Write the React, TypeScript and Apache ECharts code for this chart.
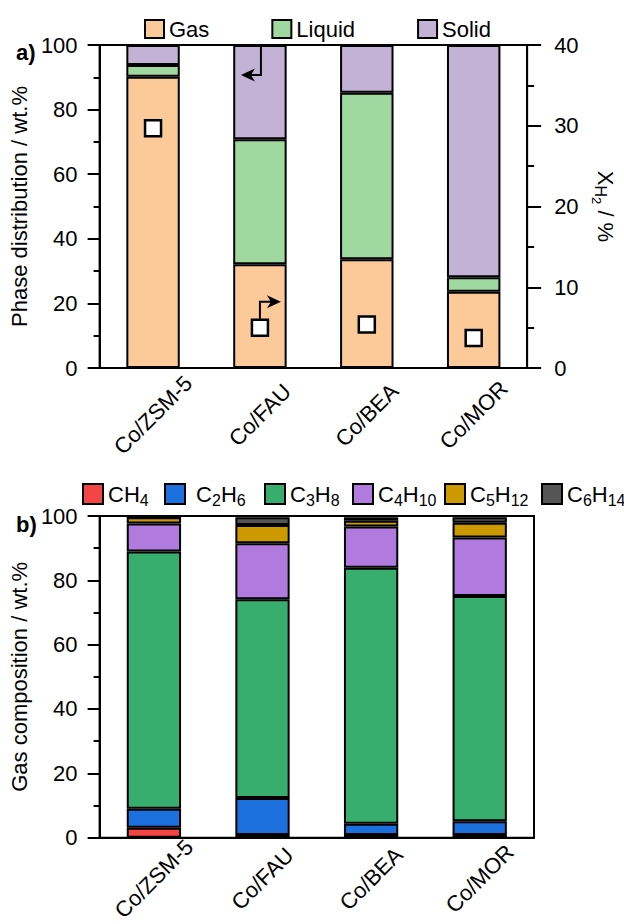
import React, { useEffect, useRef } from 'react';
import * as echarts from 'echarts';

const FONT = '"Liberation Sans", Arial, Helvetica, sans-serif';

// ---------- data ----------
const categories = ['Co/ZSM-5', 'Co/FAU', 'Co/BEA', 'Co/MOR'];

// panel a: phase distribution (wt.%)
const gas = [90.2, 32.1, 33.7, 23.6];
const liquid = [3.6, 38.7, 51.5, 4.5];
const solid = [6.2, 29.2, 14.8, 71.9];
// H2 conversion (%), right axis
const xH2 = [29.7, 5.0, 5.4, 3.7];

// panel b: gas composition (wt.%)
const ch4 = [3.1, 0.8, 0.8, 0.8];
const c2h6 = [5.9, 11.5, 3.5, 4.3];
const c3h8 = [80.0, 61.8, 79.6, 70.0];
const c4h10 = [8.7, 17.4, 12.8, 18.2];
const c5h12 = [1.9, 5.7, 1.8, 4.6];
const c6h14 = [0.0, 2.4, 1.1, 1.7];

const leftTicks = [0, 20, 40, 60, 80, 100];
const rightTicks = [0, 10, 20, 30, 40];

const phaseNames = ['Gas', 'Liquid', 'Solid'];
const phaseColors = ['#FCC999', '#A0D9A0', '#C4B2D6'];
const gasNames = ['CH4', 'C2H6', 'C3H8', 'C4H10', 'C5H12', 'C6H14'];
const gasColors = ['#F44545', '#1B70DD', '#38AE6E', '#B07ADE', '#CC9900', '#555555'];

const FS = 22;

const richSub = {
  s: { fontSize: 16, fontFamily: FONT, color: '#000', padding: [12, 0, 0, 0] },
};

function subscriptName(n: string) {
  return n.replace(/(\d+)/g, '{s|$1}');
}

export default function App() {
  const ref = useRef<HTMLDivElement>(null);

  useEffect(() => {
    if (!ref.current) return;
    const chart = echarts.init(ref.current, null, { renderer: 'svg' });

    const axisLineStyle = { color: '#000', width: 2 };
    const labelStyle = { fontSize: FS, color: '#000', fontFamily: FONT };
    const nameStyle = { fontSize: FS, color: '#000', fontFamily: FONT };

    const leftY = (gridIndex: number, name: string) => ({
      type: 'value',
      gridIndex,
      min: leftTicks[0],
      max: leftTicks[leftTicks.length - 1],
      interval: leftTicks[1] - leftTicks[0],
      name,
      nameLocation: 'middle',
      nameGap: 60,
      nameTextStyle: nameStyle,
      axisLine: { show: true, lineStyle: axisLineStyle },
      axisTick: { show: true, inside: false, length: 12, lineStyle: axisLineStyle },
      minorTick: { show: true, splitNumber: 2, length: 6, lineStyle: axisLineStyle },
      splitLine: { show: false },
      axisLabel: { ...labelStyle, margin: 22 },
    });

    const xAx = (gridIndex: number, margin: number) => ({
      type: 'category',
      gridIndex,
      data: categories,
      axisLine: { show: true, lineStyle: axisLineStyle },
      axisTick: { show: false },
      axisLabel: {
        ...labelStyle,
        rotate: 45,
        align: 'center',
        verticalAlign: 'middle',
        margin,
        interval: 0,
      },
    });

    const barItem = (color: string) => ({ color, borderColor: '#000', borderWidth: 2 });

    const labels = [
      { type: 'text', left: 16, top: 41, style: { text: 'a)', fontSize: 22, fontWeight: 'bold', fill: '#000', fontFamily: FONT } },
      { type: 'text', left: 16, top: 513, style: { text: 'b)', fontSize: 22, fontWeight: 'bold', fill: '#000', fontFamily: FONT } },
    ];

    const gasLegendLeft = [82, 164, 264, 352, 444, 541];

    const option: any = {
      animation: false,
      textStyle: { fontFamily: FONT },
      grid: [
        { left: 99, top: 45, width: 435, height: 323, show: true, borderColor: '#000', borderWidth: 2 },
        { left: 99, top: 516, width: 435, height: 324, show: true, borderColor: '#000', borderWidth: 2 },
      ],
      legend: [
        {
          data: phaseNames,
          left: 144,
          top: 18,
          padding: 0,
          itemWidth: 19,
          itemHeight: 18,
          itemGap: 62,
          selectedMode: false,
          icon: 'rect',
          textStyle: { fontSize: FS, color: '#000', fontFamily: FONT },
        },
        ...gasNames.map((n, i) => ({
          data: [n],
          left: gasLegendLeft[i],
          top: 483,
          padding: 0,
          itemWidth: 20,
          itemHeight: 20,
          selectedMode: false,
          icon: 'rect',
          formatter: (s: string) => (i === 1 ? ' ' : '') + subscriptName(s),
          textStyle: { fontSize: FS, color: '#000', fontFamily: FONT, rich: richSub },
        })),
      ],
      xAxis: [xAx(0, 47), xAx(1, 41)],
      yAxis: [
        leftY(0, 'Phase distribution / wt.%'),
        {
          type: 'value',
          gridIndex: 0,
          position: 'right',
          min: rightTicks[0],
          max: rightTicks[rightTicks.length - 1],
          interval: rightTicks[1] - rightTicks[0],
          name: 'X{h|H}{t|2} / %',
          nameLocation: 'middle',
          nameRotate: -90,
          nameGap: 56,
          nameTextStyle: {
            ...nameStyle,
            rich: {
              h: { fontSize: 16, fontFamily: FONT, color: '#000', padding: [10, 0, 0, 0] },
              t: { fontSize: 13, fontFamily: FONT, color: '#000', padding: [18, 0, 0, 0] },
            },
          },
          axisLine: { show: true, lineStyle: axisLineStyle },
          axisTick: { show: true, inside: false, length: 14, lineStyle: axisLineStyle },
          minorTick: { show: true, splitNumber: 2, length: 7, lineStyle: axisLineStyle },
          splitLine: { show: false },
          axisLabel: { ...labelStyle, margin: 27 },
        },
        leftY(1, 'Gas composition / wt.%'),
      ],
      series: [
        ...[gas, liquid, solid].map((d, i) => ({
          name: phaseNames[i],
          type: 'bar',
          stack: 'phase',
          xAxisIndex: 0,
          yAxisIndex: 0,
          barWidth: '50%',
          data: d,
          itemStyle: barItem(phaseColors[i]),
        })),
        {
          name: 'XH2',
          type: 'scatter',
          xAxisIndex: 0,
          yAxisIndex: 1,
          symbol: 'rect',
          symbolSize: 16,
          data: xH2,
          z: 5,
          itemStyle: { color: '#fff', borderColor: '#000', borderWidth: 2.5, opacity: 1 },
        },
        ...[ch4, c2h6, c3h8, c4h10, c5h12, c6h14].map((d, i) => ({
          name: gasNames[i],
          type: 'bar',
          stack: 'gas',
          xAxisIndex: 1,
          yAxisIndex: 2,
          barWidth: '50%',
          data: d,
          itemStyle: barItem(gasColors[i]),
        })),
      ],
      graphic: labels,
    };

    chart.setOption(option);

    // annotation arrows positioned from the data coordinates
    const head = (tx: number, ty: number, dir: number) => ({
      type: 'polygon',
      z: 100,
      shape: {
        points: [
          [tx, ty],
          [tx - dir * 14, ty - 6.5],
          [tx - dir * 10, ty],
          [tx - dir * 14, ty + 6.5],
        ],
      },
      style: { fill: '#000' },
    });

    const m = chart.convertToPixel({ xAxisIndex: 0, yAxisIndex: 1 }, [categories[1], xH2[1]]) as number[];
    const topPt = chart.convertToPixel({ xAxisIndex: 0, yAxisIndex: 0 }, [categories[1], 100]) as number[];
    const ay = m[1] - 26;
    const by = topPt[1] + 30;
    chart.setOption({
      graphic: [
        ...labels,
        {
          type: 'polyline',
          z: 100,
          shape: { points: [[m[0], m[1] - 9], [m[0], ay], [m[0] + 15, ay]] },
          style: { stroke: '#000', lineWidth: 2, fill: null },
        },
        head(m[0] + 21, ay, 1),
        {
          type: 'polyline',
          z: 100,
          shape: { points: [[topPt[0] + 1, topPt[1]], [topPt[0] + 1, by], [topPt[0] - 14, by]] },
          style: { stroke: '#000', lineWidth: 2, fill: null },
        },
        head(topPt[0] - 19, by, -1),
      ],
    });

    return () => chart.dispose();
  }, []);

  return (
    <div
      ref={ref}
      style={{ position: 'absolute', left: 0, top: 0, width: 624, height: 924, background: '#fff' }}
    />
  );
}
